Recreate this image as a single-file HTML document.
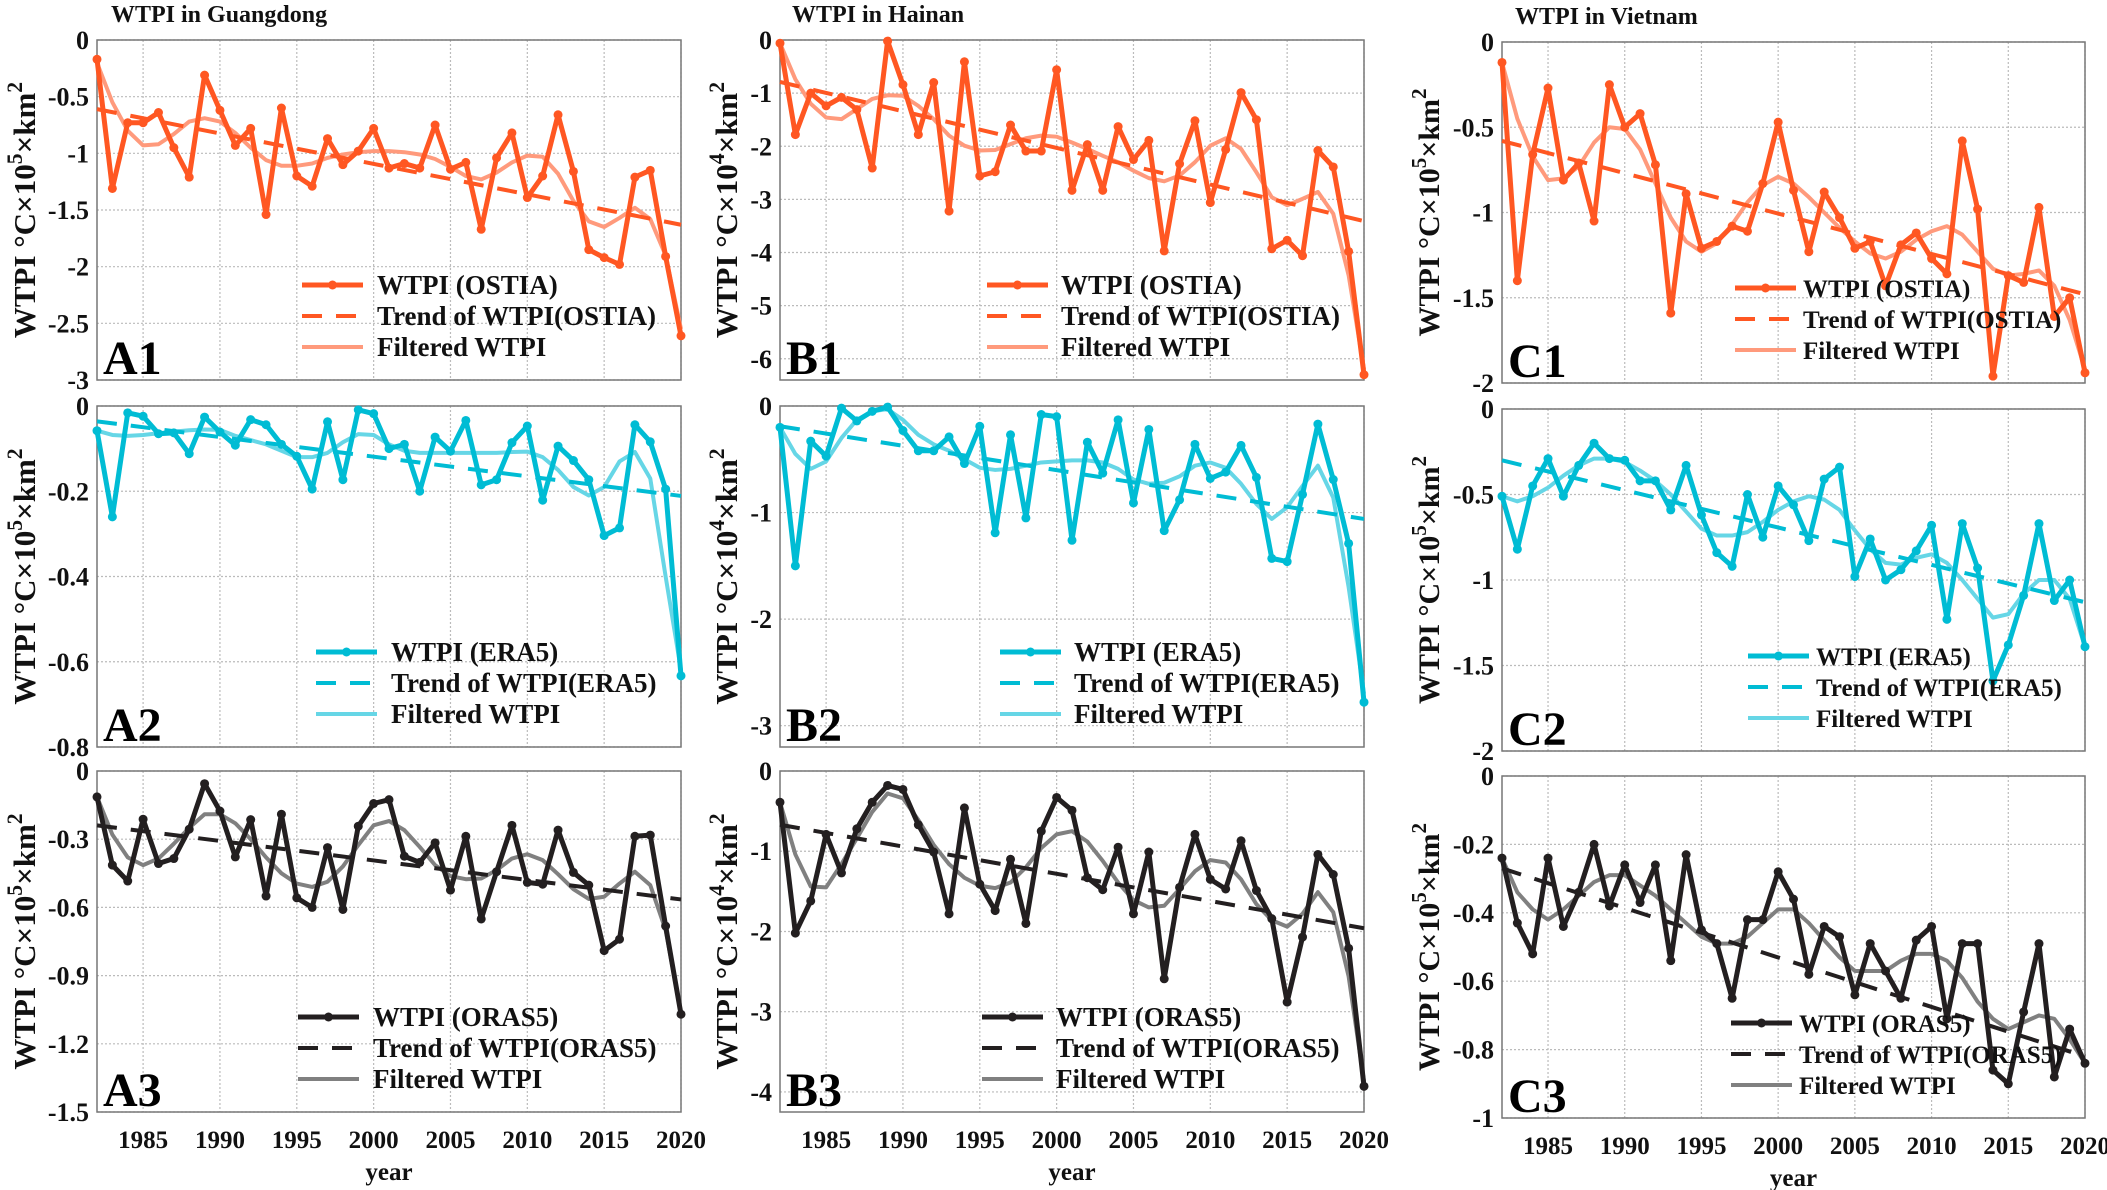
<!DOCTYPE html>
<html><head><meta charset="utf-8"><style>
html,body{margin:0;padding:0;background:#fff;}
svg{display:block;font-family:"Liberation Serif",serif;font-weight:bold;}
</style></head><body>
<svg id="fig" width="2107" height="1190" viewBox="0 0 2107 1190" xmlns="http://www.w3.org/2000/svg"></svg>
<script>
const years = [];
for (let yr = 1982; yr <= 2020; yr++) years.push(yr);
const xTickLabels = [1985,1990,1995,2000,2005,2010,2015,2020];

const a1Wtpi = [-0.17,-1.31,-0.73,-0.73,-0.64,-0.95,-1.21,-0.31,-0.62,-0.93,-0.78,-1.54,-0.60,-1.20,-1.29,-0.87,-1.10,-0.98,-0.78,-1.13,-1.09,-1.13,-0.75,-1.14,-1.08,-1.67,-1.04,-0.82,-1.39,-1.20,-0.66,-1.16,-1.85,-1.92,-1.98,-1.21,-1.15,-1.91,-2.61];
const a1Filt = [-0.2,-0.55,-0.8,-0.93,-0.92,-0.83,-0.72,-0.69,-0.72,-0.82,-0.95,-1.06,-1.11,-1.11,-1.09,-1.04,-1.01,-0.99,-0.98,-0.98,-0.99,-1.01,-1.05,-1.12,-1.2,-1.23,-1.17,-1.08,-1.02,-1.03,-1.18,-1.42,-1.6,-1.65,-1.57,-1.48,-1.58,-1.9,-2.55];
const a1Trend = [-0.61,-1.63];
const a1Ticks = [0,-0.5,-1,-1.5,-2,-2.5,-3];

const a2Wtpi = [-0.058,-0.26,-0.016,-0.024,-0.065,-0.063,-0.112,-0.026,-0.061,-0.092,-0.032,-0.044,-0.09,-0.118,-0.195,-0.037,-0.173,-0.009,-0.018,-0.10,-0.09,-0.2,-0.073,-0.106,-0.034,-0.185,-0.173,-0.086,-0.047,-0.221,-0.094,-0.128,-0.173,-0.304,-0.286,-0.044,-0.084,-0.195,-0.633];
const a2Filt = [-0.058,-0.068,-0.07,-0.068,-0.064,-0.06,-0.057,-0.055,-0.056,-0.07,-0.08,-0.09,-0.105,-0.12,-0.12,-0.11,-0.085,-0.066,-0.068,-0.09,-0.105,-0.11,-0.11,-0.11,-0.11,-0.11,-0.11,-0.108,-0.107,-0.12,-0.15,-0.19,-0.21,-0.19,-0.13,-0.108,-0.17,-0.4,-0.62];
const a2Trend = [-0.036,-0.211];
const a2Ticks = [0,-0.2,-0.4,-0.6,-0.8];

const a3Wtpi = [-0.114,-0.414,-0.484,-0.212,-0.407,-0.385,-0.256,-0.056,-0.176,-0.378,-0.214,-0.55,-0.19,-0.558,-0.6,-0.337,-0.609,-0.243,-0.143,-0.126,-0.375,-0.402,-0.316,-0.524,-0.287,-0.651,-0.443,-0.239,-0.49,-0.498,-0.26,-0.446,-0.502,-0.79,-0.74,-0.287,-0.282,-0.682,-1.07];
const a3Filt = [-0.114,-0.28,-0.38,-0.414,-0.385,-0.32,-0.25,-0.19,-0.19,-0.23,-0.3,-0.38,-0.45,-0.495,-0.51,-0.487,-0.42,-0.326,-0.239,-0.22,-0.26,-0.334,-0.414,-0.462,-0.476,-0.473,-0.436,-0.385,-0.366,-0.392,-0.454,-0.52,-0.563,-0.553,-0.495,-0.443,-0.502,-0.7,-1.065];
const a3Trend = [-0.239,-0.565];
const a3Ticks = [0,-0.3,-0.6,-0.9,-1.2,-1.5];

const b1Wtpi = [-0.06,-1.78,-1.0,-1.24,-1.08,-1.31,-2.41,-0.02,-0.84,-1.78,-0.8,-3.22,-0.41,-2.56,-2.48,-1.6,-2.09,-2.09,-0.56,-2.83,-1.97,-2.83,-1.63,-2.25,-1.89,-3.97,-2.33,-1.52,-3.06,-2.06,-0.99,-1.5,-3.93,-3.77,-4.06,-2.08,-2.39,-3.98,-6.3];
const b1Filt = [-0.06,-0.74,-1.2,-1.46,-1.49,-1.3,-1.11,-1.04,-1.05,-1.24,-1.49,-1.8,-1.99,-2.08,-2.07,-1.96,-1.85,-1.8,-1.82,-1.93,-2.05,-2.18,-2.3,-2.46,-2.6,-2.66,-2.55,-2.3,-1.99,-1.85,-2.05,-2.49,-2.96,-3.11,-2.99,-2.86,-3.27,-4.43,-6.2];
const b1Trend = [-0.79,-3.41];
const b1Ticks = [0,-1,-2,-3,-4,-5,-6];

const b2Wtpi = [-0.2,-1.5,-0.33,-0.47,-0.02,-0.14,-0.05,-0.01,-0.23,-0.42,-0.42,-0.29,-0.54,-0.19,-1.19,-0.27,-1.05,-0.08,-0.1,-1.26,-0.34,-0.63,-0.13,-0.91,-0.22,-1.17,-0.88,-0.36,-0.68,-0.62,-0.37,-0.67,-1.43,-1.46,-0.83,-0.17,-0.69,-1.29,-2.78];
const b2Filt = [-0.2,-0.45,-0.59,-0.52,-0.3,-0.13,-0.05,-0.03,-0.13,-0.27,-0.36,-0.42,-0.5,-0.58,-0.6,-0.59,-0.56,-0.53,-0.52,-0.51,-0.51,-0.53,-0.59,-0.69,-0.73,-0.72,-0.66,-0.56,-0.53,-0.58,-0.73,-0.92,-1.06,-0.95,-0.75,-0.56,-0.86,-1.7,-2.7];
const b2Trend = [-0.19,-1.06];
const b2Ticks = [0,-1,-2,-3];

const b3Wtpi = [-0.39,-2.02,-1.62,-0.79,-1.27,-0.72,-0.39,-0.18,-0.23,-0.67,-1.01,-1.78,-0.46,-1.41,-1.74,-1.1,-1.9,-0.75,-0.33,-0.49,-1.33,-1.48,-0.95,-1.78,-1.01,-2.59,-1.45,-0.79,-1.35,-1.47,-0.87,-1.49,-1.84,-2.88,-2.07,-1.04,-1.29,-2.21,-3.93];
const b3Filt = [-0.39,-1.04,-1.44,-1.45,-1.16,-0.84,-0.51,-0.28,-0.34,-0.61,-0.92,-1.16,-1.33,-1.43,-1.46,-1.39,-1.2,-0.96,-0.79,-0.75,-0.88,-1.12,-1.39,-1.61,-1.7,-1.68,-1.47,-1.25,-1.11,-1.14,-1.35,-1.66,-1.86,-1.94,-1.78,-1.51,-1.76,-2.56,-3.87];
const b3Trend = [-0.67,-1.96];
const b3Ticks = [0,-1,-2,-3,-4];

const c1Wtpi = [-0.12,-1.40,-0.66,-0.27,-0.81,-0.71,-1.05,-0.25,-0.5,-0.42,-0.72,-1.59,-0.89,-1.21,-1.17,-1.08,-1.11,-0.83,-0.47,-0.87,-1.23,-0.88,-1.03,-1.21,-1.17,-1.43,-1.19,-1.12,-1.27,-1.36,-0.58,-0.98,-1.96,-1.37,-1.41,-0.97,-1.61,-1.5,-1.94];
const c1Filt = [-0.12,-0.45,-0.67,-0.81,-0.8,-0.73,-0.59,-0.5,-0.51,-0.63,-0.83,-1.03,-1.17,-1.23,-1.18,-1.07,-0.94,-0.84,-0.79,-0.83,-0.91,-1.0,-1.09,-1.17,-1.24,-1.27,-1.23,-1.16,-1.11,-1.08,-1.13,-1.23,-1.33,-1.37,-1.36,-1.34,-1.43,-1.63,-1.92];
const c1Trend = [-0.58,-1.48];
const c1Ticks = [0,-0.5,-1,-1.5,-2];

const c2Wtpi = [-0.51,-0.82,-0.45,-0.29,-0.51,-0.33,-0.2,-0.29,-0.3,-0.42,-0.42,-0.59,-0.33,-0.62,-0.84,-0.92,-0.5,-0.75,-0.45,-0.56,-0.77,-0.41,-0.34,-0.98,-0.76,-1.0,-0.94,-0.83,-0.68,-1.23,-0.67,-0.93,-1.59,-1.38,-1.09,-0.67,-1.12,-1.0,-1.39];
const c2Filt = [-0.51,-0.54,-0.51,-0.46,-0.39,-0.33,-0.29,-0.29,-0.31,-0.36,-0.42,-0.5,-0.6,-0.7,-0.74,-0.74,-0.72,-0.66,-0.59,-0.54,-0.51,-0.53,-0.59,-0.71,-0.82,-0.9,-0.91,-0.87,-0.85,-0.9,-1.0,-1.11,-1.22,-1.2,-1.08,-1.0,-1.0,-1.11,-1.39];
const c2Trend = [-0.3,-1.13];
const c2Ticks = [0,-0.5,-1,-1.5,-2];

const c3Wtpi = [-0.24,-0.43,-0.52,-0.24,-0.44,-0.34,-0.2,-0.38,-0.26,-0.37,-0.26,-0.54,-0.23,-0.45,-0.49,-0.65,-0.42,-0.42,-0.28,-0.36,-0.58,-0.44,-0.47,-0.64,-0.49,-0.57,-0.65,-0.48,-0.44,-0.71,-0.49,-0.49,-0.86,-0.9,-0.69,-0.49,-0.88,-0.74,-0.84];
const c3Filt = [-0.24,-0.34,-0.39,-0.42,-0.39,-0.35,-0.31,-0.29,-0.29,-0.32,-0.35,-0.39,-0.43,-0.47,-0.49,-0.49,-0.47,-0.43,-0.39,-0.39,-0.43,-0.48,-0.53,-0.57,-0.57,-0.57,-0.54,-0.52,-0.52,-0.54,-0.59,-0.66,-0.71,-0.74,-0.72,-0.7,-0.71,-0.77,-0.84];
const c3Trend = [-0.27,-0.82];
const c3Ticks = [0,-0.2,-0.4,-0.6,-0.8,-1];

const NS = "http://www.w3.org/2000/svg";
const svg = document.getElementById('fig');
function mk(tag, attrs, parent, txt) {
  const e = document.createElementNS(NS, tag);
  for (const k in attrs) e.setAttribute(k, attrs[k]);
  if (txt !== undefined) e.textContent = txt;
  (parent || svg).appendChild(e);
  return e;
}
const ORANGE = {main:'#ff5722', light:'#ff9a7c'};
const CYAN = {main:'#00bcd4', light:'#66d6e6'};
const BLACK = {main:'#231f20', light:'#808080'};

const panels = [
  {id:'a1', x0:97,x1:681,y0:40,y1:380,ymin:-3,ticks:a1Ticks,w:a1Wtpi,f:a1Filt,t:a1Trend,c:ORANGE,src:'OSTIA',label:'A1',leg:[302,377],exp:'5',lo:62},
  {id:'a2', x0:97,x1:681,y0:406,y1:747,ymin:-0.8,ticks:a2Ticks,w:a2Wtpi,f:a2Filt,t:a2Trend,c:CYAN,src:'ERA5',label:'A2',leg:[316,391],exp:'5',lo:62},
  {id:'a3', x0:97,x1:681,y0:771,y1:1112,ymin:-1.5,ticks:a3Ticks,w:a3Wtpi,f:a3Filt,t:a3Trend,c:BLACK,src:'ORAS5',label:'A3',leg:[298,373],exp:'5',xt:true,lo:62},
  {id:'b1', x0:780,x1:1364,y0:40,y1:380,ymin:-6.4,ticks:b1Ticks,w:b1Wtpi,f:b1Filt,t:b1Trend,c:ORANGE,src:'OSTIA',label:'B1',leg:[987,1061],exp:'4',lo:43},
  {id:'b2', x0:780,x1:1364,y0:406,y1:747,ymin:-3.2,ticks:b2Ticks,w:b2Wtpi,f:b2Filt,t:b2Trend,c:CYAN,src:'ERA5',label:'B2',leg:[1000,1074],exp:'4',lo:43},
  {id:'b3', x0:780,x1:1364,y0:771,y1:1112,ymin:-4.25,ticks:b3Ticks,w:b3Wtpi,f:b3Filt,t:b3Trend,c:BLACK,src:'ORAS5',label:'B3',leg:[982,1056],exp:'4',xt:true,lo:43},
  {id:'c1', x0:1502,x1:2085,y0:42,y1:383,ymin:-2,ticks:c1Ticks,w:c1Wtpi,f:c1Filt,t:c1Trend,c:ORANGE,src:'OSTIA',label:'C1',leg:[1735,1803],exp:'5',nos:true,lo:63},
  {id:'c2', x0:1502,x1:2085,y0:409,y1:751,ymin:-2,ticks:c2Ticks,w:c2Wtpi,f:c2Filt,t:c2Trend,c:CYAN,src:'ERA5',label:'C2',leg:[1748,1816],exp:'5',nos:true,lo:63},
  {id:'c3', x0:1502,x1:2085,y0:776,y1:1118,ymin:-1,ticks:c3Ticks,w:c3Wtpi,f:c3Filt,t:c3Trend,c:BLACK,src:'ORAS5',label:'C3',leg:[1731,1799],exp:'5',nos:true,xt:true,lo:63}
];

function drawPanel(p) {
  const g = mk('g', {});
  
  
  const X = yr => p.x0 + (yr - 1982) / 38 * (p.x1 - p.x0);
  const Y = v => p.y0 + v / p.ymin * (p.y1 - p.y0);
  xTickLabels.forEach(yr => {
    const l = mk('line', {x1:X(yr),x2:X(yr),y1:p.y0,y2:p.y1,stroke:'#bbb','stroke-width':1.2,'stroke-dasharray':'2,2'}, g);
    
    
  });
  p.ticks.forEach(v => {
    const l = mk('line', {x1:p.x0,x2:p.x1,y1:Y(v),y2:Y(v),stroke:'#bbb','stroke-width':1.2,'stroke-dasharray':'2,2'}, g);
    
    
    const t = mk('text', {x:p.x0 - 8, y:Y(v) + 9, 'text-anchor':'end','font-size':26,fill:'#111'}, g, String(v));
    
    
  });
  const box = mk('rect', {x:p.x0,y:p.y0,width:p.x1-p.x0,height:p.y1-p.y0,fill:'none',stroke:'#777','stroke-width':1.5}, g);
  
  
  const cy = (p.y0 + p.y1) / 2, lx = p.x0 - p.lo;
  const yfs = p.nos ? 30 : 31;
  const yl = mk('text', {x:lx, y:cy, transform:`rotate(-90 ${lx} ${cy})`, 'text-anchor':'middle','font-size':yfs,fill:'#111'}, g);
  
  
  mk('tspan', {}, yl, 'WTPI °C×10');
  mk('tspan', {dy:-13,'font-size':yfs*0.7}, yl, p.exp);
  mk('tspan', {dy:13}, yl, '×km');
  mk('tspan', {dy:-13,'font-size':yfs*0.7}, yl, '2');
  if (p.xt) {
    xTickLabels.forEach(yr => {
      const t = mk('text', {x:X(yr), y:p.y1 + 36, 'text-anchor':'middle','font-size':25,fill:'#111'}, g, String(yr));
      
      
    });
    const xl = mk('text', {x:(p.x0+p.x1)/2, y:p.y1 + 68, 'text-anchor':'middle','font-size':25,fill:'#111'}, g, 'year');
    
    
  }
  const fp = mk('polyline', {points: years.map((yr,i)=>X(yr)+','+Y(p.f[i])).join(' '), fill:'none', stroke:p.c.light, 'stroke-width':4, 'stroke-linejoin':'round'}, g);
  
  
  const tl = mk('line', {x1:X(1982),y1:Y(p.t[0]),x2:X(2020),y2:Y(p.t[1]),stroke:p.c.main,'stroke-width':4,'stroke-dasharray':'20,14'}, g);
  
  
  const mp = mk('polyline', {points: years.map((yr,i)=>X(yr)+','+Y(p.w[i])).join(' '), fill:'none', stroke:p.c.main, 'stroke-width':5, 'stroke-linejoin':'round'}, g);
  
  
  years.forEach((yr,i) => {
    const c = mk('circle', {cx:X(yr), cy:Y(p.w[i]), r:4.5, fill:p.c.main}, g);
    
    
  });
  const lg = mk('g', {}, g);
  
  
  const lx0 = p.leg[0], lx1 = p.leg[0] + 61, tx = p.leg[1];
  const rows = [p.y1 - 95, p.y1 - 64, p.y1 - 33];
  mk('line', {x1:lx0,x2:lx1,y1:rows[0],y2:rows[0],stroke:p.c.main,'stroke-width':5}, lg);
  mk('circle', {cx:(lx0+lx1)/2,cy:rows[0],r:4.5,fill:p.c.main}, lg);
  mk('line', {x1:lx0,x2:lx1,y1:rows[1],y2:rows[1],stroke:p.c.main,'stroke-width':4,'stroke-dasharray':'20,14'}, lg);
  mk('line', {x1:lx0,x2:lx1,y1:rows[2],y2:rows[2],stroke:p.c.light,'stroke-width':4}, lg);
  const labels = ['WTPI (' + p.src + ')', 'Trend of WTPI(' + p.src + ')', 'Filtered WTPI'];
  labels.forEach((s,i) => {
    const t = mk('text', {x:tx, y:rows[i] + 9, 'font-size':p.nos ? 25 : 27, fill:'#111'}, lg, s);
    
    
  });
  const pl = mk('text', {x:p.x0 + 6, y:p.y1 - 6, 'font-size':48, fill:'#000'}, g, p.label);
  
  
}
panels.forEach(drawPanel);

const titles = [[111,22,'WTPI in Guangdong'],[792,22,'WTPI in Hainan'],[1515,24,'WTPI in Vietnam']];
titles.forEach(tt => {
  const t = mk('text', {x:tt[0], y:tt[1], 'font-size':24, fill:'#111'}, svg, tt[2]);
  
  
});
</script>
</body></html>
